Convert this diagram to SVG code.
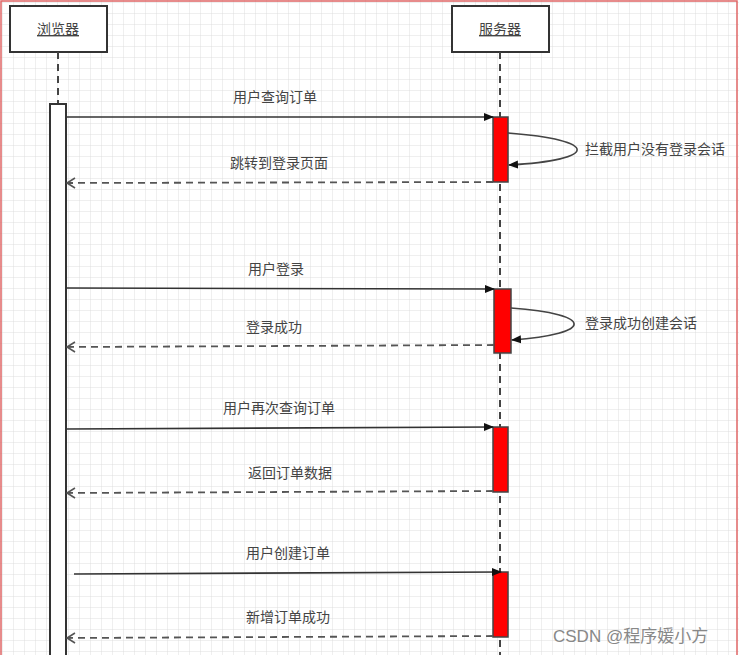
<svg xmlns="http://www.w3.org/2000/svg" width="739" height="655" viewBox="0 0 739 655">
<style>
.lbl{font-family:"Liberation Serif","Noto Sans CJK SC",serif;font-size:14px;fill:#444;text-anchor:middle}
.note{font-family:"Liberation Serif","Noto Sans CJK SC",serif;font-size:14px;fill:#444}
.hdr{font-family:"Liberation Serif","Noto Sans CJK SC",serif;font-size:14px;fill:#444;text-anchor:middle;text-decoration:underline}
.box{fill:#fff;stroke:#333;stroke-width:2}
.life{stroke:#444;stroke-width:2;stroke-dasharray:7,5;fill:none}
.act{fill:#ff0000;stroke:#444;stroke-width:1.5}
.msg{stroke:#333;stroke-width:1.6;fill:none}
.ret{stroke:#555;stroke-width:1.8;stroke-dasharray:7,5;fill:none}
.self{stroke:#444;stroke-width:1.6;fill:none}
</style>
<defs>
<pattern id="grid" width="11" height="11" patternUnits="userSpaceOnUse" x="3" y="3">
<path d="M11 0 V11 M0 11 H11" stroke="#dedede" stroke-width="1" fill="none"/>
</pattern>
<marker id="fill" markerWidth="10" markerHeight="10" refX="9" refY="5" orient="auto" markerUnits="userSpaceOnUse">
<path d="M0,1 L10,5 L0,9 Z" fill="#111"/>
</marker>
<marker id="open" markerWidth="12" markerHeight="12" refX="10" refY="6" orient="auto" markerUnits="userSpaceOnUse">
<path d="M2,1 L10,6 L2,11" fill="none" stroke="#555" stroke-width="1.6"/>
</marker>
</defs>
<rect width="739" height="655" fill="#fff"/>
<rect width="739" height="655" fill="url(#grid)"/>
<path d="M1 655 V1 H737 V655" fill="none" stroke="#e06666" stroke-width="1.5"/>

<g id="browser">
<rect class="box" x="10" y="6" width="97" height="46"/>
<text class="hdr" x="58" y="34">浏览器</text>
<line class="life" x1="58" y1="52" x2="58" y2="104"/>
<rect class="box" x="50" y="104" width="16" height="560"/>
</g>

<g id="server">
<rect class="box" x="452" y="6" width="97" height="46"/>
<text class="hdr" x="500" y="34">服务器</text>
<line class="life" x1="500" y1="52" x2="500" y2="655"/>
<rect class="act" x="493" y="117" width="15" height="65"/>
<rect class="act" x="494" y="289" width="17" height="64"/>
<rect class="act" x="493" y="427" width="15" height="65"/>
<rect class="act" x="493" y="572" width="15" height="65"/>
</g>

<g id="connectors">
<line class="msg" x1="66" y1="117" x2="493" y2="117" marker-end="url(#fill)"/>
<path class="self" d="M508 133 C 600 140, 600 160, 509 165" marker-end="url(#fill)"/>
<line class="ret" x1="493" y1="182" x2="67" y2="183" marker-end="url(#open)"/>

<line class="msg" x1="66" y1="288" x2="494" y2="289" marker-end="url(#fill)"/>
<path class="self" d="M511 308 C 595 314, 595 334, 512 340" marker-end="url(#fill)"/>
<line class="ret" x1="494" y1="345" x2="67" y2="347" marker-end="url(#open)"/>

<line class="msg" x1="66" y1="429" x2="493" y2="427" marker-end="url(#fill)"/>
<line class="ret" x1="493" y1="491" x2="67" y2="493" marker-end="url(#open)"/>

<line class="msg" x1="74" y1="574" x2="501" y2="572" marker-end="url(#fill)"/>
<line class="ret" x1="493" y1="636" x2="67" y2="638" marker-end="url(#open)"/>
</g>

<g id="labels">
<text class="lbl" x="275" y="102">用户查询订单</text>
<text class="note" x="585" y="154">拦截用户没有登录会话</text>
<text class="lbl" x="279" y="168">跳转到登录页面</text>
<text class="lbl" x="276" y="274">用户登录</text>
<text class="note" x="585" y="328">登录成功创建会话</text>
<text class="lbl" x="274" y="332">登录成功</text>
<text class="lbl" x="279" y="413">用户再次查询订单</text>
<text class="lbl" x="290" y="478">返回订单数据</text>
<text class="lbl" x="288" y="558">用户创建订单</text>
<text class="lbl" x="288" y="622">新增订单成功</text>
</g>
<text x="553" y="642" style="font-family:'Liberation Sans','Noto Sans CJK SC',sans-serif;font-size:17px;fill:#888">CSDN @程序媛小方</text>
</svg>
